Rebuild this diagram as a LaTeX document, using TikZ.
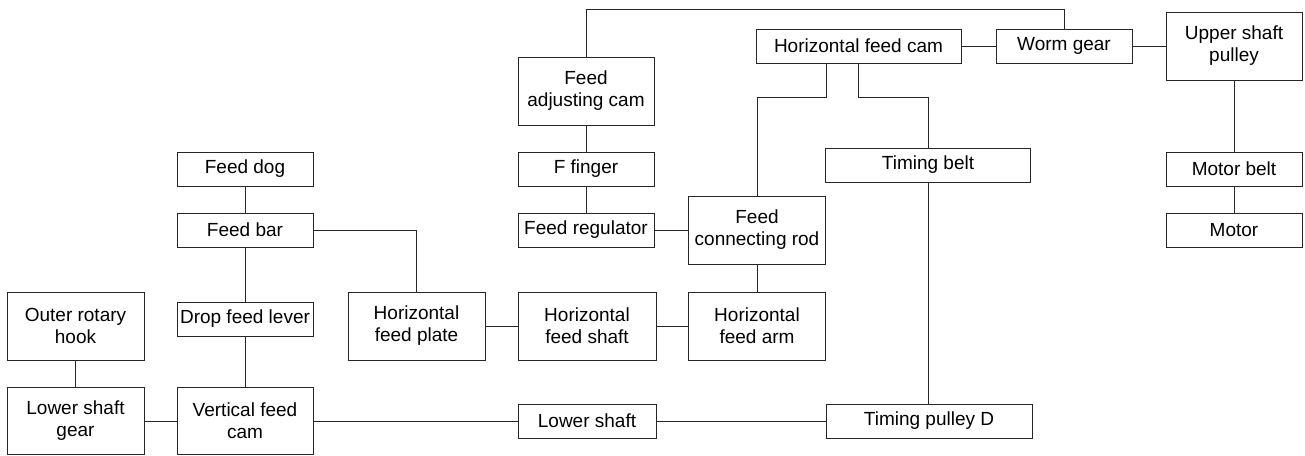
\documentclass[tikz,border=0pt]{standalone}
\usepackage{fontspec}
\setmainfont{Liberation Sans}
\begin{document}
\begin{tikzpicture}[x=1pt,y=-1pt,
  box/.style={draw=black!85, line width=1pt, inner sep=0pt, align=center,
    font=\fontsize{19}{22}\selectfont, text=black},
  link/.style={draw=black!85, line width=1pt}]
\useasboundingbox (0,0) rectangle (1305,455);
% left column
\node[box, minimum width=136, minimum height=34] (fdog) at (245,169) {Feed dog};
\node[box, minimum width=136, minimum height=34] (fbar) at (245,230) {Feed bar};
\node[box, minimum width=136, minimum height=34] (dfl) at (245,319) {Drop feed lever};
\node[box, minimum width=136, minimum height=67] (vfc) at (245,421) {Vertical feed\\cam};
\node[box, minimum width=137, minimum height=68] (orh) at (75.5,326) {Outer rotary\\hook};
\node[box, minimum width=137, minimum height=67] (lsg) at (75.5,421) {Lower shaft\\gear};
% middle
\node[box, minimum width=137, minimum height=68] (hfp) at (416.5,326) {Horizontal\\feed plate};
\node[box, minimum width=138, minimum height=68] (hfs) at (587,326) {Horizontal\\feed shaft};
\node[box, minimum width=137, minimum height=68] (hfa) at (757,326) {Horizontal\\feed arm};
\node[box, minimum width=138, minimum height=34] (lsh) at (587,421) {Lower shaft};
\node[box, minimum width=206, minimum height=34] (tpd) at (929,421) {Timing pulley D};
\node[box, minimum width=136, minimum height=68] (fac) at (586,91) {Feed\\adjusting cam};
\node[box, minimum width=136, minimum height=34] (ffi) at (586,169) {F finger};
\node[box, minimum width=136, minimum height=34] (freg) at (586,230) {Feed regulator};
\node[box, minimum width=137, minimum height=68] (fcr) at (757,230) {Feed\\connecting rod};
% right
\node[box, minimum width=205, minimum height=34] (hfc) at (858.5,46) {Horizontal feed cam};
\node[box, minimum width=136, minimum height=34] (wg) at (1064,46) {Worm gear};
\node[box, minimum width=136, minimum height=68] (usp) at (1234,46) {Upper shaft\\pulley};
\node[box, minimum width=205, minimum height=34] (tb) at (928,165) {Timing belt};
\node[box, minimum width=136, minimum height=34] (mb) at (1234,169) {Motor belt};
\node[box, minimum width=136, minimum height=34] (mot) at (1234,230) {Motor};
% connectors
\draw[link] (fdog) -- (fbar);
\draw[link] (fbar) -- (dfl);
\draw[link] (dfl) -- (vfc);
\draw[link] (orh) -- (lsg);
\draw[link] (lsg) -- (vfc);
\draw[link] (vfc) -- (lsh);
\draw[link] (lsh) -- (tpd);
\draw[link] (fbar.east) -| (hfp.north);
\draw[link] (hfp) -- (hfs);
\draw[link] (hfs) -- (hfa);
\draw[link] (hfa) -- (fcr);
\draw[link] (freg) -- (fcr);
\draw[link] (fac) -- (ffi);
\draw[link] (ffi) -- (freg);
\coordinate (topL) at (586,9);
\draw[link] (fac.north) -- (topL) -| (wg.north);
\draw[link] (hfc.south -| fcr.east) -- ++(0,34) -| (fcr.north);
\draw[link] (hfc.south) -- ++(0,34) -| (tb.north);
\draw[link] (tb.south) -- (tb.south |- tpd.north);
\draw[link] (hfc) -- (wg);
\draw[link] (wg) -- (usp);
\draw[link] (usp) -- (mb);
\draw[link] (mb) -- (mot);
\end{tikzpicture}
\end{document}
